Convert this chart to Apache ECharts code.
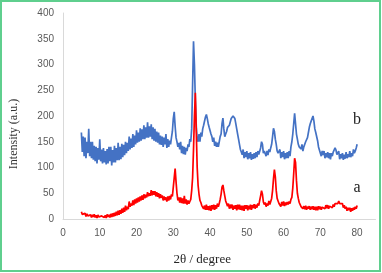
<!DOCTYPE html>
<html>
<head>
<meta charset="utf-8">
<script src="https://cdn.jsdelivr.net/npm/echarts@6/dist/echarts.min.js"></script>
<style>
html,body{margin:0;padding:0;background:#fff;}
#c{width:382px;height:273px;}
</style>
</head>
<body>
<div id="c"></div>
<script>
var twoTheta = [
5,5.25,5.5,5.75,6,6.25,6.5,6.75,7,7.25,7.5,7.75,8,8.25,8.5,8.75,9,9.25,9.5,9.75,
10,10.25,10.5,10.75,11,11.25,11.5,11.75,12,12.25,12.5,12.75,13,13.25,13.5,13.75,14,14.25,14.5,14.75,
15,15.25,15.5,15.75,16,16.25,16.5,16.75,17,17.25,17.5,17.75,18,18.25,18.5,18.75,19,19.25,19.5,19.75,
20,20.25,20.5,20.75,21,21.25,21.5,21.75,22,22.25,22.5,22.75,23,23.25,23.5,23.75,24,24.25,24.5,24.75,
25,25.25,25.5,25.75,26,26.25,26.5,26.75,27,27.25,27.5,27.75,28,28.25,28.5,28.75,29,29.25,29.5,29.75,
30,30.25,30.5,30.75,31,31.25,31.5,31.75,32,32.25,32.5,32.75,33,33.25,33.5,33.75,34,34.25,34.5,34.75,
35,35.25,35.5,35.75,36,36.25,36.5,36.75,37,37.25,37.5,37.75,38,38.25,38.5,38.75,39,39.25,39.5,39.75,
40,40.25,40.5,40.75,41,41.25,41.5,41.75,42,42.25,42.5,42.75,43,43.25,43.5,43.75,44,44.25,44.5,44.75,
45,45.25,45.5,45.75,46,46.25,46.5,46.75,47,47.25,47.5,47.75,48,48.25,48.5,48.75,49,49.25,49.5,49.75,
50,50.25,50.5,50.75,51,51.25,51.5,51.75,52,52.25,52.5,52.75,53,53.25,53.5,53.75,54,54.25,54.5,54.75,
55,55.25,55.5,55.75,56,56.25,56.5,56.75,57,57.25,57.5,57.75,58,58.25,58.5,58.75,59,59.25,59.5,59.75,
60,60.25,60.5,60.75,61,61.25,61.5,61.75,62,62.25,62.5,62.75,63,63.25,63.5,63.75,64,64.25,64.5,64.75,
65,65.25,65.5,65.75,66,66.25,66.5,66.75,67,67.25,67.5,67.75,68,68.25,68.5,68.75,69,69.25,69.5,69.75,
70,70.25,70.5,70.75,71,71.25,71.5,71.75,72,72.25,72.5,72.75,73,73.25,73.5,73.75,74,74.25,74.5,74.75,
75,75.25,75.5,75.75,76,76.25,76.5,76.75,77,77.25,77.5,77.75,78,78.25,78.5,78.75,79,79.25,79.5,79.75,
80];
var seriesA = [
14,9,12,7, 11,5,10,6, 9,4,8,3, 8,4,9,3, 7,2,8,4,
7,2,6,3, 8,3,7,2, 9,4,8,3, 10,4,11,5, 12,6,14,7,
16,8,17,10, 20,12,22,14, 26,17,24,19, 34,24,30,26, 36,27,38,30,
40,32,42,34, 44,36,46,37, 48,40,47,42, 52,44,50,45, 56,46,54,47,
54,44,52,43, 50,40,48,41, 46,36,44,37, 42,34,44,36, 45,38,48,44,
62,80,98,72, 50,36,42,32, 42,31,40,30, 45,30,38,28, 36,30,34,38,
55,80,135,200, 245,170,100,65, 48,36,32,26, 28,20,26,18, 28,18,25,17,
26,16,27,19, 28,18,27,20, 30,24,30,38, 48,62,66,55, 45,35,30,25,
30,20,28,21, 28,18,26,20, 27,17,28,19, 28,18,26,17, 26,16,27,20,
27,17,26,19, 28,18,27,21, 29,20,28,22, 30,26,36,45, 55,48,33,28,
32,24,30,26, 35,28,34,40, 55,78,96,82, 55,40,35,30, 32,24,33,26,
34,25,32,27, 33,28,34,30, 38,42,60,88, 118,110,75,50, 40,32,30,24,
26,20,25,19, 26,18,24,20, 25,18,24,19, 25,18,24,17, 24,17,25,19,
24,18,23,20, 25,20,27,21, 27,20,25,22, 26,22,28,24, 30,28,33,30,
35,30,33,27, 30,22,27,20, 24,16,22,17, 22,14,21,16, 22,18,24,20,
26];
var seriesB = [
168,130,160,122, 158,118,150,128, 175,122,150,118, 150,115,142,112, 140,108,138,115,
155,112,135,108, 138,110,132,106, 136,108,140,112, 140,104,134,110, 142,110,138,114,
148,114,140,116, 146,120,144,124, 150,128,148,132, 160,135,156,138, 165,140,162,145,
172,148,168,150, 176,152,174,155, 182,155,178,158, 188,158,180,160, 184,155,178,152,
175,150,170,148, 168,145,162,144, 160,140,158,145, 165,138,155,140, 152,145,158,170,
195,208,180,158, 150,140,148,135, 150,128,142,126, 140,125,138,132, 145,140,155,150,
175,260,345,300, 230,180,155,150, 165,150,168,160, 175,182,185,198, 203,195,185,178,
175,165,160,150, 158,142,150,140, 148,140,150,160, 165,185,196,175, 160,165,170,178,
175,182,185,195, 198,200,202,195, 185,175,165,155, 145,135,130,125, 135,118,130,120,
132,116,128,118, 130,115,126,117, 128,118,130,120, 132,125,128,138, 150,145,128,132,
135,122,132,124, 135,130,138,145, 160,176,170,155, 145,132,128,130, 135,118,130,120,
132,116,128,118, 130,118,132,122, 140,150,165,185, 205,185,165,155, 145,140,138,136,
145,132,140,138, 150,152,158,168, 178,185,190,195, 200,190,175,168, 165,152,140,138,
138,122,132,124, 132,118,128,120, 130,118,128,116, 128,122,130,128, 138,134,125,128,
132,116,126,118, 128,115,125,117, 130,118,126,120, 132,120,128,122, 135,128,132,138,
145];
var seriesNames = ['b','a'];
var yTicks = [0,50,100,150,200,250,300,350,400];

function pairs(ys){ return twoTheta.map(function(x,i){ return [x, ys[i]]; }); }

var chart = echarts.init(document.getElementById('c'), null, {renderer:'canvas'});
var serif = 'Liberation Serif, Times New Roman, serif';
chart.setOption({
  animation:false,
  backgroundColor:'#fff',
  grid:{left:61, right:6.5, top:13, bottom:54},
  xAxis:{
    type:'value', min:0, max:85, interval:10,
    axisLine:{show:true, lineStyle:{color:'#d9d9d9', width:1}},
    axisTick:{show:false},
    splitLine:{show:false},
    axisLabel:{color:'#595959', fontSize:10, fontFamily:'Liberation Sans, Arial, sans-serif', margin:9, showMaxLabel:false},
    name:'2θ / degree', nameLocation:'middle', nameGap:34,
    nameTextStyle:{color:'#262626', fontSize:13, fontFamily:serif, padding:[0,34,0,0]}
  },
  yAxis:{
    type:'value', min:yTicks[0], max:yTicks[yTicks.length-1], interval:50,
    axisLine:{show:true, lineStyle:{color:'#d9d9d9', width:1}},
    axisTick:{show:false},
    splitLine:{show:false},
    axisLabel:{color:'#595959', fontSize:10, fontFamily:'Liberation Sans, Arial, sans-serif', margin:9},
    name:'Intensity (a.u.)', nameLocation:'middle', nameGap:43,
    nameTextStyle:{color:'#333', fontSize:12, fontFamily:serif, padding:[0,36,0,0]}
  },
  graphic:[{type:'rect', shape:{x:1, y:1, width:379, height:270}, style:{fill:'none', stroke:'#5fcf8e', lineWidth:2}, silent:true}],
  series:[
    {name:seriesNames[0], type:'line', data:pairs(seriesB), showSymbol:false, symbol:'none',
     lineStyle:{color:'#4472C4', width:1.7}, z:2,
     markPoint:{symbol:'circle', symbolSize:0, data:[{coord:[80,192]}],
       label:{show:true, formatter:seriesNames[0], color:'#222', fontSize:16, fontFamily:serif, position:'inside'}}},
    {name:seriesNames[1], type:'line', data:pairs(seriesA), showSymbol:false, symbol:'none',
     lineStyle:{color:'#FF0000', width:1.7}, z:3,
     markPoint:{symbol:'circle', symbolSize:0, data:[{coord:[80,60]}],
       label:{show:true, formatter:seriesNames[1], color:'#222', fontSize:16, fontFamily:serif, position:'inside'}}}
  ]
});
</script>
</body>
</html>
